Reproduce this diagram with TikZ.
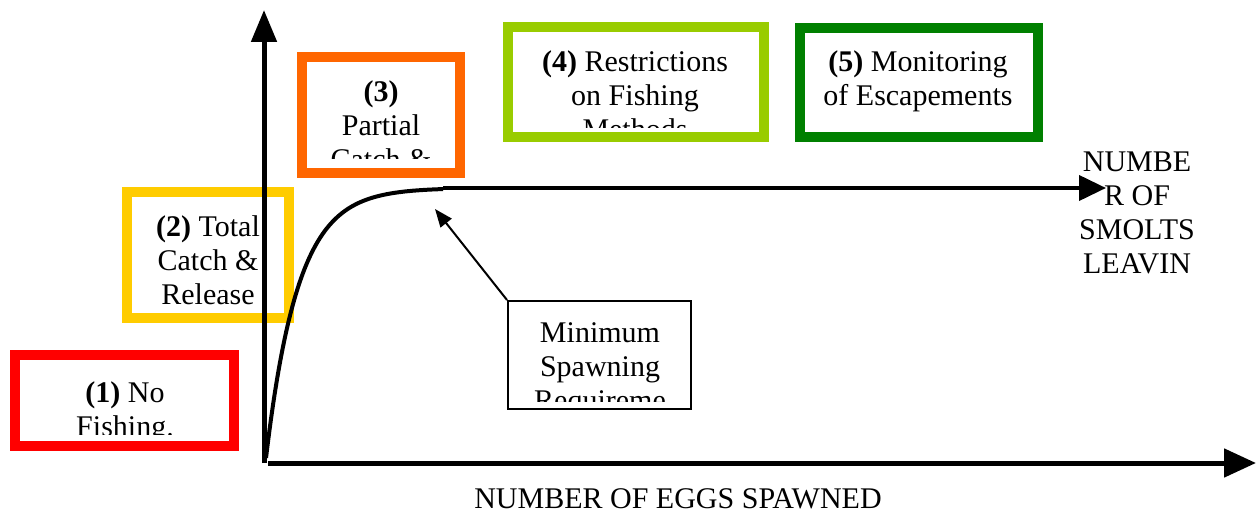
\documentclass[tikz,border=0pt]{standalone}
\usepackage{fontspec}
\setmainfont{Liberation Serif}
\usetikzlibrary{arrows.meta}
\definecolor{redbox}{HTML}{FF0000}
\definecolor{yellowbox}{HTML}{FFCC00}
\definecolor{orangebox}{HTML}{FF6600}
\definecolor{limebox}{HTML}{99CC00}
\definecolor{greenbox}{HTML}{008000}
\tikzset{
  lbl/.style={font=\fontsize{15}{17}\selectfont, align=center, inner sep=0pt, anchor=north},
  panel/.style={fill=white, inner sep=0pt, line width=5pt},
  axisline/.style={line width=2.5pt},
  curveline/.style={line width=2pt},
}
\begin{document}
\begin{tikzpicture}[x=0.5pt,y=-0.5pt]
\useasboundingbox (0,0) rectangle (1258,513);

% coloured stage boxes
\node[panel, draw=redbox, minimum width=109.5pt, minimum height=45.5pt] (b1) at (124.5,400.5) {};
\begin{scope}
  \clip (20,360) rectangle (229,434);
  \node[lbl] (t1) at (125,378) {\strut\textbf{(1)} No\\Fishing.};
\end{scope}

\node[panel, draw=yellowbox, line width=4.75pt, minimum width=81pt, minimum height=63pt] (b2) at (208,255) {};
\node[lbl] (t2) at (208,212) {\strut\textbf{(2)} Total\\Catch \&\\Release};

\node[panel, draw=orangebox, minimum width=79pt, minimum height=58pt] (b3) at (381,115) {};
\begin{scope}
  \clip (307,62) rectangle (455,159);
  \node[lbl] (t3) at (381,77) {\strut\textbf{(3)}\\Partial\\Catch \&\\Release};
\end{scope}

\node[panel, draw=limebox, minimum width=128pt, minimum height=55pt] (b4) at (636,82) {};
\begin{scope}
  \clip (513,32) rectangle (759,128);
  \node[lbl] (t4) at (635,47) {\strut\textbf{(4)} Restrictions\\on Fishing\\Methods};
\end{scope}

\node[panel, draw=greenbox, minimum width=119pt, minimum height=54.5pt] (b5) at (919,82.5) {};
\node[lbl] (t5) at (918,47) {\strut\textbf{(5)} Monitoring\\of Escapements};

% label box for the minimum requirement
\node[panel, draw=black, line width=1pt, minimum width=91.5pt, minimum height=54pt] (mbox) at (599.5,355) {};
\begin{scope}
  \clip (509,302) rectangle (690,401);
  \node[lbl] (tm) at (600,318) {\strut Minimum\\Spawning\\Requireme\\nt};
\end{scope}

% axis titles
\node[lbl] (ylab) at (1137,147) {\strut NUMBE\\R OF\\SMOLTS\\LEAVIN};
\node[lbl] (xlab) at (678,484) {\strut NUMBER OF EGGS SPAWNED};

% axes
\coordinate (origin) at (264,463);
\coordinate (ytop) at (264,10);
\coordinate (xstart) at (268,463);
\coordinate (xend) at (1256,463);
\draw[axisline, -{Triangle[length=16pt,width=12.5pt]}] (origin) -- (ytop);
\draw[axisline, -{Triangle[length=16pt,width=14pt]}] (xstart) -- (xend);

% stock-recruitment curve
\coordinate (peak) at (443,188);
\coordinate (plateau) at (1106,188);
\draw[curveline] plot[domain=0:177, samples=150] ({266+\x},{188+270*exp(-\x/32)});
\draw[curveline, -{Triangle[length=13.5pt,width=12.5pt]}] (peak) -- (plateau);

% pointer to the plateau start
\coordinate (mtip) at (435,209);
\draw[line width=1pt, -{Triangle[length=9pt,width=7pt]}] (mbox.north west) -- (mtip);
\end{tikzpicture}
\end{document}
